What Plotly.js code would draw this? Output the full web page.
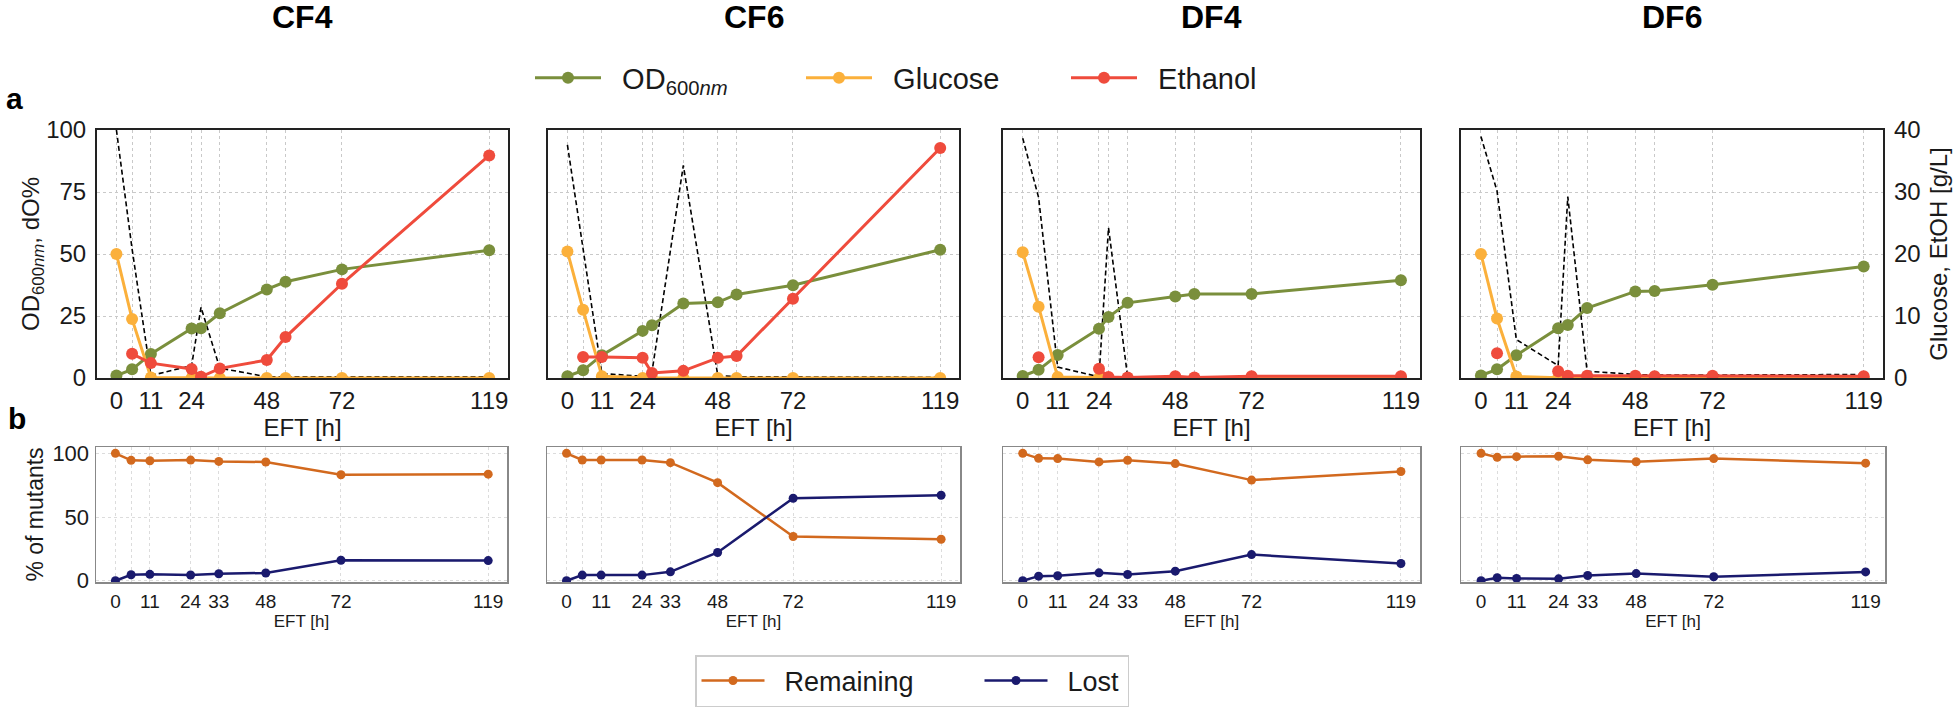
<!DOCTYPE html>
<html>
<head>
<meta charset="utf-8">
<script src="https://cdn.plot.ly/plotly-3.0.1.min.js"></script>
<style>html,body{margin:0;padding:0;background:#fff;}#chart{width:1960px;height:712px;}</style>
</head>
<body>
<div id="chart"></div>
<script>
// ---------- DATA ----------
const panelNames = ["CF4", "CF6", "DF4", "DF6"];

// fermentation time points (h) of the top panels
const timeCF4 = [0, 5, 11, 24, 27, 33, 48, 54, 72, 119];
const timeCF6 = [0, 5, 11, 24, 27, 37, 48, 54, 72, 119];
const timeDF4 = [0, 5, 11, 24, 27, 33, 48, 54, 72, 119];
const timeDF6 = [0, 5, 11, 24, 27, 33, 48, 54, 72, 119];

// OD600nm (left axis)
const odCF4 = [1.0, 3.5, 9.7, 20.0, 20.1, 26.1, 35.7, 38.8, 43.8, 51.5];
const odCF6 = [0.7, 3.1, 9.2, 19.0, 21.3, 30.0, 30.5, 33.7, 37.4, 51.7];
const odDF4 = [0.8, 3.3, 9.3, 19.9, 24.6, 30.3, 32.9, 33.9, 33.9, 39.4];
const odDF6 = [1.0, 3.5, 9.2, 20.1, 21.4, 28.2, 34.9, 35.1, 37.6, 45.0];

// dissolved oxygen dO% (left axis, dashed)
const doCF4 = [100, 52, 1.0, 5.0, 28.5, 4.0, 0.5, 0.5, 0.5, 0.5];
const doCF6 = [94, 52, 1.8, 0.7, 2.5, 85.7, 1.0, 0.5, 0.4, 0.3];
const doDF4 = [96.7, 72.8, 4.4, 0.5, 60.6, 0.5, 0.3, 0.3, 0.3, 0.3];
const doDF6 = [97.4, 75.4, 15.5, 5.0, 73.1, 2.75, 1.4, 1.2, 1.2, 1.4];

// Glucose g/L (right axis)
const gluCF4 = [20.0, 9.5, 0.1, 0, 0, 0, 0, 0, 0, 0];
const gluCF6 = [20.4, 11.0, 0.3, 0, 0, 0, 0, 0, 0, 0];
const gluDF4 = [20.3, 11.5, 0.15, 0, 0, 0, 0, 0, 0, 0];
const gluDF6 = [20.0, 9.6, 0.25, 0, 0, 0, 0, 0, 0, 0];

// Ethanol g/L (right axis)
const etoCF4 = [null, 3.9, 2.4, 1.45, 0.2, 1.55, 2.9, 6.6, 15.2, 35.9];
const etoCF6 = [null, 3.4, 3.4, 3.25, 0.8, 1.15, 3.25, 3.55, 12.8, 37.1];
const etoDF4 = [null, 3.35, null, 1.5, 0.15, 0.1, 0.3, 0.1, 0.3, 0.3];
const etoDF6 = [null, 4.0, null, 1.1, 0.35, 0.35, 0.35, 0.3, 0.35, 0.3];

// top x tick labels
const topTicks = [0, 11, 24, 48, 72, 119];
const leftTicks = [0, 25, 50, 75, 100];
const rightTicks = [0, 10, 20, 30, 40];

// bottom panels: % of mutants
const timeB = [0, 5, 11, 24, 33, 48, 72, 119];
const bottomTicks = [0, 11, 24, 33, 48, 72, 119];
const bottomYTicks = [0, 50, 100];
const remCF4 = [100, 94.5, 94.2, 94.7, 93.7, 93.2, 83.2, 83.7];
const lostCF4 = [0, 4.7, 5.0, 4.5, 5.5, 6.1, 16.1, 15.8];
const remCF6 = [100, 94.8, 94.8, 94.8, 92.7, 77.0, 34.7, 32.6];
const lostCF6 = [0, 4.4, 4.4, 4.4, 7.0, 22.2, 64.8, 67.1];
const remDF4 = [100, 96.1, 95.9, 93.3, 94.6, 92.0, 79.0, 85.8];
const lostDF4 = [0, 3.6, 3.9, 6.2, 4.9, 7.5, 20.5, 13.5];
const remDF6 = [100, 96.9, 97.4, 97.7, 94.9, 93.4, 95.9, 92.3];
const lostDF6 = [0, 2.3, 1.8, 1.5, 4.1, 5.6, 3.1, 6.9];

// ---------- STYLE ----------
const FONT = "Liberation Sans, Arial, Helvetica, sans-serif";
const TXT = "#1a1a1a";
const C_OD = "#7a8f3c", C_GLU = "#fbb03b", C_ETO = "#ef4b3c";
const C_REM = "#d2691e", C_LOST = "#1a1a6e";

const times = [timeCF4, timeCF6, timeDF4, timeDF6];
const ods = [odCF4, odCF6, odDF4, odDF6];
const dos = [doCF4, doCF6, doDF4, doDF6];
const glus = [gluCF4, gluCF6, gluDF4, gluDF6];
const etos = [etoCF4, etoCF6, etoDF4, etoDF6];
const rems = [remCF4, remCF6, remDF4, remDF6];
const losts = [lostCF4, lostCF6, lostDF4, lostDF6];

const W = 1960, H = 712;
const xDomPx = [[97, 508], [548, 959], [1003, 1420], [1461, 1883]];
const xDomPxB = [[96, 507], [547, 960], [1003, 1420], [1461, 1885]];
const topY = [1 - 378 / H, 1 - 130 / H];
const botY = [1 - 582 / H, 1 - 447 / H];
const XR = [-6.2, 125];

const NB = "\u00a0\u00a0";
const traces = [];
const layout = {
  width: W, height: H,
  margin: {l: 0, r: 0, t: 0, b: 0},
  paper_bgcolor: "#fff", plot_bgcolor: "#fff",
  font: {family: FONT, color: TXT},
  showlegend: true,
  legend: {
    orientation: "h", x: 530 / W, xanchor: "left", y: 1 - 78 / H, yanchor: "middle",
    font: {size: 29, family: FONT, color: TXT}, itemwidth: 66,
    bgcolor: "rgba(0,0,0,0)", borderwidth: 0, tracegroupgap: 0
  },
  legend2: {
    orientation: "h", x: 695 / W, xanchor: "left", y: 1 - 681 / H, yanchor: "middle",
    font: {size: 27, family: FONT, color: TXT}, itemwidth: 63,
    bgcolor: "#fff", bordercolor: "#cccccc", borderwidth: 1.5
  },
  annotations: [],
  hovermode: false
};

for (let i = 0; i < 4; i++) {
  const n = i + 1;
  const xa = "x" + n, ya = "y" + n, yr = "y" + (n + 4);
  const xb = "x" + (n + 4), yb = "y" + (n + 8);
  const t = times[i];
  const first = i === 0;

  // top panel traces
  traces.push({x: t, y: dos[i], xaxis: xa, yaxis: ya, mode: "lines", showlegend: false,
    line: {color: "#000", width: 1.6, dash: "5px,3px"}});
  traces.push({x: t, y: ods[i], xaxis: xa, yaxis: ya, mode: "lines+markers", name: "OD<sub>600<i>nm</i></sub>",
    legend: "legend", showlegend: first, legendwidth: 190,
    line: {color: C_OD, width: 3}, marker: {color: C_OD, size: 12}});
  traces.push({x: t, y: glus[i], xaxis: xa, yaxis: yr, mode: "lines+markers", name: "Glucose",
    legend: "legend", showlegend: first, legendwidth: 184,
    line: {color: C_GLU, width: 3}, marker: {color: C_GLU, size: 12}});
  traces.push({x: t, y: etos[i], xaxis: xa, yaxis: yr, mode: "lines+markers", name: "Ethanol",
    legend: "legend", showlegend: first, legendwidth: 150,
    line: {color: C_ETO, width: 3}, marker: {color: C_ETO, size: 12}});

  // bottom panel traces
  traces.push({x: timeB, y: rems[i], xaxis: xb, yaxis: yb, mode: "lines+markers", name: "Remaining",
    legend: "legend2", showlegend: first, legendwidth: 205,
    line: {color: C_REM, width: 2.5}, marker: {color: C_REM, size: 9}});
  traces.push({x: timeB, y: losts[i], xaxis: xb, yaxis: yb, mode: "lines+markers", name: "Lost",
    legend: "legend2", showlegend: first, legendwidth: 70,
    line: {color: C_LOST, width: 2.5}, marker: {color: C_LOST, size: 9}});

  const gridTop = {showgrid: true, gridcolor: "#c9c9c9", gridwidth: 1, griddash: "dot"};
  layout["xaxis" + n] = Object.assign({
    domain: [xDomPx[i][0] / W, xDomPx[i][1] / W], anchor: ya, range: XR,
    tickmode: "array", tickvals: topTicks, ticktext: topTicks.map(String),
    minor: {tickmode: "array", tickvals: t, ticks: "", showgrid: true, gridcolor: "#c9c9c9", gridwidth: 1, griddash: "dot"},
    ticks: "", tickfont: {size: 24, color: TXT}, ticklabelstandoff: 0,
    showline: true, mirror: true, linecolor: "#222", linewidth: 2, zeroline: false,
    title: {text: "EFT [h]", font: {size: 24, color: TXT}, standoff: 2}
  }, gridTop);
  const yl = Object.assign({
    domain: topY, anchor: xa, range: [0, 100],
    tickmode: "array", tickvals: leftTicks, showticklabels: first,
    ticks: "", tickfont: {size: 24, color: TXT}, ticklabelstandoff: 4,
    showline: true, mirror: true, linecolor: "#222", linewidth: 2, zeroline: false
  }, gridTop);
  if (first) yl.title = {text: "OD<sub>600<i>nm</i></sub>, dO%", font: {size: 24, color: TXT}, standoff: 0};
  layout["yaxis" + n] = yl;
  const yrr = {
    overlaying: ya, anchor: xa, side: "right", range: [0, 40],
    tickmode: "array", tickvals: rightTicks, showticklabels: i === 3,
    ticks: "", tickfont: {size: 24, color: TXT}, ticklabelstandoff: 10,
    showgrid: false, zeroline: false, showline: false
  };
  if (i === 3) yrr.title = {text: "Glucose, EtOH [g/L]", font: {size: 24, color: TXT}, standoff: 10};
  layout["yaxis" + (n + 4)] = yrr;

  const gridBot = {showgrid: true, gridcolor: "#dcdcdc", gridwidth: 1, griddash: "dot"};
  layout["xaxis" + (n + 4)] = Object.assign({
    domain: [xDomPxB[i][0] / W, xDomPxB[i][1] / W], anchor: yb, range: XR,
    tickmode: "array", tickvals: bottomTicks, ticktext: bottomTicks.map(String),
    minor: {tickmode: "array", tickvals: timeB, ticks: "", showgrid: true, gridcolor: "#dcdcdc", gridwidth: 1, griddash: "dot"},
    ticks: "", tickfont: {size: 19, color: TXT}, ticklabelstandoff: 2,
    showline: true, mirror: true, linecolor: "#888", linewidth: 1.5, zeroline: false,
    title: {text: "EFT [h]", font: {size: 17, color: TXT}, standoff: 3}
  }, gridBot);
  const ybb = Object.assign({
    domain: botY, anchor: xb, range: [-1, 105],
    tickmode: "array", tickvals: bottomYTicks, showticklabels: first,
    ticks: "", tickfont: {size: 22, color: TXT}, ticklabelstandoff: 1,
    showline: true, mirror: true, linecolor: "#888", linewidth: 1.5, zeroline: false
  }, gridBot);
  if (first) ybb.title = {text: "% of mutants", font: {size: 23, color: TXT}, standoff: 2};
  layout["yaxis" + (n + 8)] = ybb;

  layout.annotations.push({
    xref: "paper", yref: "paper", x: (xDomPx[i][0] + xDomPx[i][1]) / 2 / W, y: 1 - 17 / H,
    xanchor: "center", yanchor: "middle", showarrow: false,
    text: "<b>" + panelNames[i] + "</b>", font: {size: 32, color: "#000", family: FONT}
  });
}

// spacing between legend symbol and text
traces.forEach(tr => { if (tr.showlegend && tr.name) tr.name = NB + tr.name; });

layout.annotations.push({xref: "paper", yref: "paper", x: 14 / W, y: 1 - 99 / H, xanchor: "center", yanchor: "middle",
  showarrow: false, text: "<b>a</b>", font: {size: 30, color: "#000", family: FONT}});
layout.annotations.push({xref: "paper", yref: "paper", x: 17 / W, y: 1 - 418 / H, xanchor: "center", yanchor: "middle",
  showarrow: false, text: "<b>b</b>", font: {size: 30, color: "#000", family: FONT}});

Plotly.newPlot("chart", traces, layout, {staticPlot: true, displayModeBar: false});
</script>
</body>
</html>
